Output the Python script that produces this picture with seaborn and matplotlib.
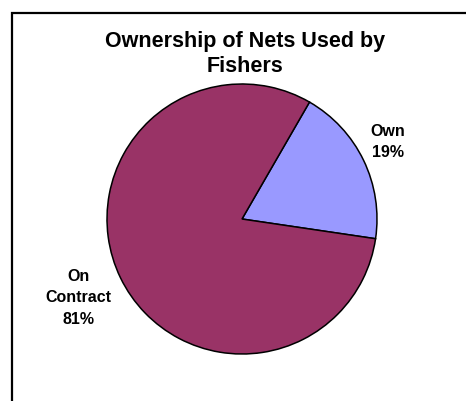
import matplotlib
matplotlib.use("Agg")
import matplotlib.pyplot as plt
from matplotlib.patches import Rectangle
import seaborn as sns

# Net ownership shares (percent)
categories = ["Own", "On Contract"]
shares = [19, 81]
label_lines = [["Own"], ["On", "Contract"]]
colors = ["#9999FF", "#993366"]
title = "Ownership of Nets Used by\nFishers"

sns.set_theme(style="white")
plt.rcParams["font.family"] = ["Liberation Sans", "DejaVu Sans"]

W, H = 466, 401
fig = plt.figure(figsize=(W / 100, H / 100), dpi=100)
fig.patch.set_facecolor("white")

# chart-area border (runs off the right and bottom edges)
fig.add_artist(Rectangle((12 / W, -0.1), 1.2, 1 - 13 / H + 0.1,
                         transform=fig.transFigure, fill=False,
                         edgecolor="black", linewidth=1.6))

# pie axes: centre (242, 219) px, radius 135 px
cx, cy, r = 242, 219, 135
ax = fig.add_axes([(cx - r) / W, (H - cy - r) / H, 2 * r / W, 2 * r / H])
ax.pie(shares, colors=colors, startangle=60, counterclock=False,
       wedgeprops=dict(edgecolor="black", linewidth=1.1), radius=1.0,
       frame=False)
ax.set_xlim(-1, 1)
ax.set_ylim(-1, 1)
ax.axis("off")

# data labels
label_pos = [(1.08, 0.57), (-1.21, -0.585)]
for lines, v, (x, y) in zip(label_lines, shares, label_pos):
    txt = "\n".join(lines + [f"{v}%"])
    ax.text(x, y, txt, ha="center", va="center", fontsize=11.5,
            fontweight="bold", linespacing=1.55, color="black", clip_on=False)

fig.text(245 / W, 1 - 54 / H, title, ha="center", va="center",
         fontsize=15.5, fontweight="bold", linespacing=1.3, color="black")

fig.savefig("out.png", dpi=100, facecolor="white")
